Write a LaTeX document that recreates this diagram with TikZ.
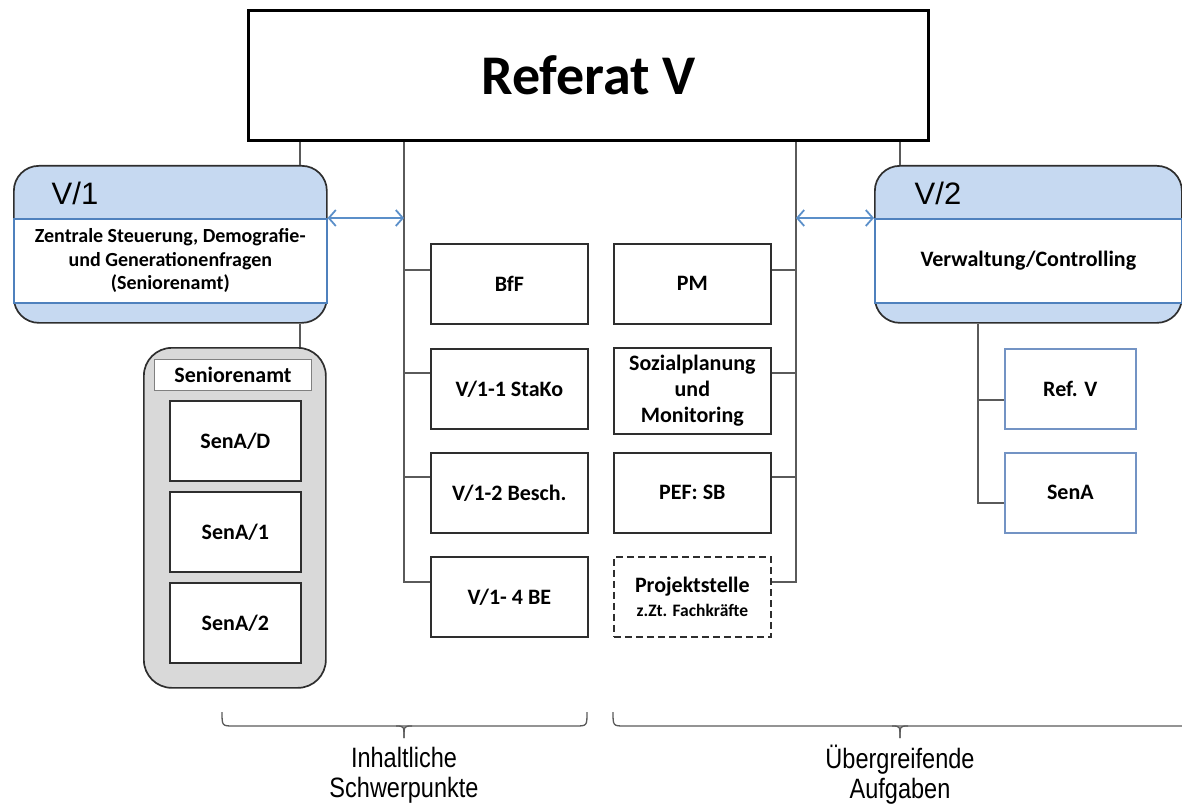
\documentclass[tikz,border=0pt]{standalone}
\usepackage{fontspec}
\setmainfont{Carlito}
\newfontfamily\arialfont{Liberation Sans}
\newfontfamily\narrowfont[FakeStretch=0.84]{Liberation Sans}
\usetikzlibrary{arrows.meta}
\definecolor{vblue}{HTML}{C6D9F1}
\definecolor{vline}{HTML}{4F81BD}
\definecolor{arrblue}{HTML}{5B8FC9}
\definecolor{conncol}{HTML}{5A5A5A}
\definecolor{sgray}{HTML}{D9D9D9}
\definecolor{boxline}{HTML}{2E2E2E}
\definecolor{refblue}{HTML}{7393C4}
\begin{document}
\begin{tikzpicture}[x=1pt,y=-1pt,
  box/.style={draw=boxline, line width=1.7pt, fill=white, anchor=north west, inner sep=0pt,
    align=center, font=\fontsize{22}{26}\selectfont\bfseries},
  midbox/.style={box, minimum width=157pt, minimum height=80pt},
  senbox/.style={box, minimum width=131pt, minimum height=80pt},
  rbox/.style={box, draw=refblue, minimum width=131pt, minimum height=80pt},
  vouter/.style={draw=boxline, line width=1.7pt, fill=vblue, rounded corners=25pt, anchor=north west, inner sep=0pt},
  vinner/.style={draw=vline, line width=1.6pt, fill=white, anchor=north west, inner sep=0pt, align=center},
  vlabel/.style={font=\arialfont\fontsize{31}{34}\selectfont, inner sep=0pt},
  conn/.style={draw=conncol, line width=1.3pt},
  arr/.style={draw=arrblue, line width=1.8pt, {Straight Barb[length=7pt,width=16pt,line width=1.8pt]}-{Straight Barb[length=7pt,width=16pt,line width=1.8pt]}},
  bracelab/.style={font=\narrowfont\fontsize{28}{30}\selectfont, align=center, inner sep=0pt}
]
\useasboundingbox (0,0) rectangle (1182,805);

% reference coordinates
\coordinate (xA) at (300,0);
\coordinate (busL) at (404,0);
\coordinate (busR) at (796,0);
\coordinate (xB) at (900,0);
\coordinate (busV) at (978,0);
\coordinate (y1) at (0,270);
\coordinate (y2) at (0,373);
\coordinate (y3) at (0,477);
\coordinate (y4) at (0,582);
\coordinate (yr1) at (0,400);
\coordinate (yr2) at (0,503);

% top box
\node[box, draw=black, line width=3pt, minimum width=680pt, minimum height=130pt,
  font=\fontsize{56}{60}\selectfont\bfseries] (ref) at (247,9) {Referat V};

% V/1
\node[vouter, minimum width=313pt, minimum height=157pt] (v1out) at (13,165) {};
\node[vinner, minimum width=313pt, minimum height=84pt, font=\fontsize{20}{23.5}\selectfont\bfseries] (v1) at (13,218)
  {Zentrale Steuerung, Demografie-\\und Generationenfragen\\(Seniorenamt)};
\node[vlabel] (v1t) at (75,193) {V/1};

% V/2
\node[vouter, minimum width=307pt, minimum height=157pt] (v2out) at (874,165) {};
\node[vinner, minimum width=307pt, minimum height=84pt, font=\fontsize{22}{26}\selectfont\bfseries] (v2) at (874,218)
  {Verwaltung/Controlling};
\node[vlabel] (v2t) at (938,193) {V/2};

% Seniorenamt group
\node[draw=boxline, line width=1.7pt, fill=sgray, rounded corners=28pt, minimum width=182pt,
  minimum height=340pt, anchor=north west, inner sep=0pt] (sen) at (143,347) {};
\node[box, draw=gray, line width=1pt, minimum width=157pt, minimum height=31pt] (senlab) at (154,359) {Seniorenamt};
\node[senbox] (sad) at (169,400) {SenA/D};
\node[senbox] (sa1) at (169,491) {SenA/1};
\node[senbox] (sa2) at (169,582) {SenA/2};

% middle left column
\node[midbox] (bff) at (430,243) {BfF};
\node[midbox] (stako) at (430,348) {V/1-1 StaKo};
\node[midbox] (besch) at (430,452) {V/1-2 Besch.};
\node[midbox] (be) at (430,556) {V/1- 4 BE};

% middle right column
\node[midbox] (pm) at (613,243) {PM};
\node[midbox, minimum height=86pt] (sozial) at (613,347) {Sozialplanung\\und\\Monitoring};
\node[midbox, dashed, dash pattern=on 7pt off 4pt] (proj) at (613,556)
  {Projektstelle\\[-2pt]{\fontsize{17.5}{19}\selectfont z.Zt. Fachkräfte}};
\node[midbox] (pef) at (613,452) {PEF: SB};

% V/2 children
\node[rbox] (refv) at (1004,348) {Ref. V};
\node[rbox] (sena) at (1004,452) {SenA};

% connectors
\draw[conn] (ref.south -| xA) -- (v1out.north -| xA);
\draw[conn] (ref.south -| xB) -- (v2out.north -| xB);
\draw[conn] (v1out.south -| xA) -- (sen.north -| xA);

\draw[conn] (ref.south -| busL) -- (busL |- y4) -- (be.west |- y4);
\draw[conn] (busL |- y1) -- (bff.west |- y1);
\draw[conn] (busL |- y2) -- (stako.west |- y2);
\draw[conn] (busL |- y3) -- (besch.west |- y3);

\draw[conn] (ref.south -| busR) -- (busR |- y4) -- (proj.east |- y4);
\draw[conn] (busR |- y1) -- (pm.east |- y1);
\draw[conn] (busR |- y2) -- (sozial.east |- y2);
\draw[conn] (busR |- y3) -- (pef.east |- y3);

\draw[conn] (v2out.south -| busV) -- (busV |- yr2) -- (sena.west |- yr2);
\draw[conn] (busV |- yr1) -- (refv.west |- yr1);

% arrows
\draw[arr] (v1.north east) -- (v1.north east -| busL);
\draw[arr] (v2.north west -| busR) -- (v2.north west);

% braces
\coordinate (bl1) at (222,712);
\coordinate (bl2) at (587,712);
\coordinate (bt1) at (404,738);
\coordinate (br1) at (613,712);
\coordinate (br2) at (1195,726);
\coordinate (bt2) at (900,738);
\draw[conn] (bl1) .. controls (222,726) .. (234,726) -- (575,726) .. controls (587,726) .. (bl2);
\draw[conn] (396,726) .. controls (404,726) .. (bt1);
\draw[conn] (412,726) .. controls (404,726) .. (bt1);
\draw[conn] (br1) .. controls (613,726) .. (625,726) -- (br2);
\draw[conn] (892,726) .. controls (900,726) .. (bt2);
\draw[conn] (908,726) .. controls (900,726) .. (bt2);

\node[bracelab] (lab1) at (404,775) {Inhaltliche\\Schwerpunkte};
\node[bracelab] (lab2) at (900,775) {Übergreifende\\Aufgaben};
\end{tikzpicture}
\end{document}
